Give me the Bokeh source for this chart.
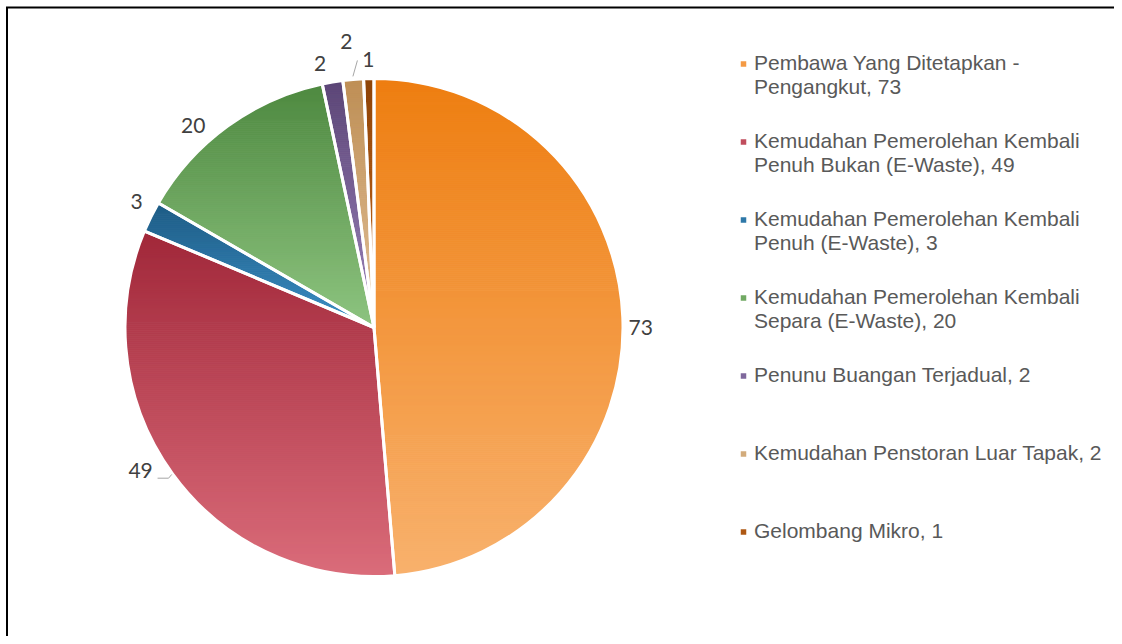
import math
import textwrap
from bokeh.plotting import figure
from bokeh.models import Range1d, ColumnDataSource
from bokeh.core.properties import value
from bokeh.embed import file_html
from bokeh.resources import INLINE

# ---------------- data ----------------
categories = [
    "Pembawa Yang Ditetapkan - Pengangkut",
    "Kemudahan Pemerolehan Kembali Penuh Bukan (E-Waste)",
    "Kemudahan Pemerolehan Kembali Penuh (E-Waste)",
    "Kemudahan Pemerolehan Kembali Separa (E-Waste)",
    "Penunu Buangan Terjadual",
    "Kemudahan Penstoran Luar Tapak",
    "Gelombang Mikro",
]
values = [73, 49, 3, 20, 2, 2, 1]

# gradient colours per slice (top -> bottom)
top_colors = ["#EE7E11", "#A1283A", "#1D5B84", "#4E8940", "#5C4677", "#BE8E55", "#8E4408"]
bottom_colors = ["#F8B16D", "#DA6C7A", "#3C8FC6", "#8EC480", "#9B83BA", "#E2C29A", "#C8691C"]

# ---------------- layout ----------------
W, H = 1114, 636
CX, CY, R = 373.5, 309.0, 249.0
label_radius = [270, 270, 270, 270, 270, 270, 270]
label_nudge = [(-3, -11), (-15, 16), (4.5, 6), (-22, -16), (-9, -2), (-5, 17), (0, -2)]
LEG_MARK_X, LEG_TEXT_X = 743.0, 753.5
LEG_TOP_MID, LEG_STEP, LEG_LINE = 572.5, 78.0, 24.0
LEG_TEXT_SHIFT = 1.5
LEGEND_FONT = "Liberation Sans"
LABEL_FONT = "Lato"


def hex2rgb(h):
    h = h.lstrip("#")
    return tuple(int(h[i:i + 2], 16) for i in (0, 2, 4))


def mix(c1, c2, t):
    a, b = hex2rgb(c1), hex2rgb(c2)
    return "#%02x%02x%02x" % tuple(int(round(a[i] + (b[i] - a[i]) * t)) for i in range(3))


def clip_half(pts, keep, yc):
    out = []
    n = len(pts)
    for i in range(n):
        cur, prev = pts[i], pts[i - 1]
        cin, pin = keep(cur), keep(prev)
        if cin:
            if not pin:
                t = (yc - prev[1]) / (cur[1] - prev[1])
                out.append((prev[0] + t * (cur[0] - prev[0]), yc))
            out.append(cur)
        elif pin:
            t = (yc - prev[1]) / (cur[1] - prev[1])
            out.append((prev[0] + t * (cur[0] - prev[0]), yc))
    return out


def clip_band(poly, lo, hi):
    pts = clip_half(poly, lambda p: p[1] >= lo, lo)
    if len(pts) < 3:
        return []
    pts = clip_half(pts, lambda p: p[1] <= hi, hi)
    return pts if len(pts) >= 3 else []


total = float(sum(values))
cum = [0.0]
for v in values:
    cum.append(cum[-1] + v)
theta0 = [c / total * 2 * math.pi for c in cum[:-1]]   # clockwise from top
theta1 = [c / total * 2 * math.pi for c in cum[1:]]

p = figure(width=W, height=H, x_range=Range1d(0, W), y_range=Range1d(0, H),
           output_backend="svg", toolbar_location=None,
           x_axis_location=None, y_axis_location=None, min_border=0,
           outline_line_color=None, background_fill_color="white")
p.grid.visible = False

# gradient slices built from horizontal bands
xs, ys, cols = [], [], []
for i in range(len(values)):
    a0, a1 = theta0[i], theta1[i]
    n = max(4, int(math.degrees(a1 - a0) * 2))
    poly = [(CX, CY)]
    for k in range(n + 1):
        a = a0 + (a1 - a0) * k / n
        poly.append((CX + R * math.sin(a), CY + R * math.cos(a)))
    ymin = min(pt[1] for pt in poly)
    ymax = max(pt[1] for pt in poly)
    band = 2.0
    nb = max(2, int(math.ceil((ymax - ymin) / band)))
    for b in range(nb):
        hi = ymax - b * (ymax - ymin) / nb
        lo = ymax - (b + 1) * (ymax - ymin) / nb
        piece = clip_band(poly, lo, hi)
        if not piece:
            continue
        t = ((ymax - (lo + hi) / 2) / (ymax - ymin))
        xs.append([pt[0] for pt in piece])
        ys.append([pt[1] for pt in piece])
        cols.append(mix(top_colors[i], bottom_colors[i], t))

src = ColumnDataSource(dict(xs=xs, ys=ys, c=cols))
p.patches("xs", "ys", fill_color="c", line_color="c", line_width=1, source=src)

# white slice borders
wsrc = ColumnDataSource(dict(
    start=[math.pi / 2 - a for a in theta0],
    end=[math.pi / 2 - a for a in theta1],
))
p.wedge(x=CX, y=CY, radius=R, start_angle="start", end_angle="end",
        direction="clock", fill_color=None, line_color="white", line_width=3,
        source=wsrc)

# data labels
lx, ly, lt = [], [], []
for i, v in enumerate(values):
    mid = (theta0[i] + theta1[i]) / 2
    x = CX + label_radius[i] * math.sin(mid) + label_nudge[i][0]
    y = CY + label_radius[i] * math.cos(mid) + label_nudge[i][1]
    lx.append(x)
    ly.append(y)
    lt.append(str(v))
p.text(x=lx, y=ly, text=lt, text_font=value(LABEL_FONT), text_font_size="21px",
       text_color="#404040", text_align="center", text_baseline="middle")

# leader lines (red slice and the first small tan slice)
mid_r = (theta0[1] + theta1[1]) / 2
p0 = (CX + (R + 1) * math.sin(mid_r), CY + (R + 1) * math.cos(mid_r))
p.line([p0[0], lx[1] + 28, lx[1] + 17], [p0[1], ly[1] - 8, ly[1] - 8],
       line_color="#A6A6A6", line_width=1)
mid_t = (theta0[5] + theta1[5]) / 2
q0 = (CX + (R + 3) * math.sin(mid_t), CY + (R + 3) * math.cos(mid_t))
p.line([q0[0], lx[5] + 11], [q0[1], ly[5] - 19], line_color="#A6A6A6", line_width=1)

# legend
mx, my, mc = [], [], []
tx, ty, tt = [], [], []
for i, (cat, v) in enumerate(zip(categories, values)):
    mid_y = LEG_TOP_MID - i * LEG_STEP
    mx.append(LEG_MARK_X)
    my.append(mid_y)
    mc.append(mix(top_colors[i], bottom_colors[i], 0.55))
    for j, line in enumerate(textwrap.wrap(f"{cat}, {v}", width=33)):
        tx.append(LEG_TEXT_X)
        ty.append(mid_y + LEG_TEXT_SHIFT - j * LEG_LINE)
        tt.append(line)
p.rect(x=mx, y=my, width=5.5, height=5.5, fill_color=mc, line_color=None)
p.text(x=tx, y=ty, text=tt, text_font=value(LEGEND_FONT), text_font_size="21px",
       text_color="#595959", text_align="left", text_baseline="middle")

# chart border (left and top)
p.line([6.5, 6.5], [0, 629], line_color="black", line_width=2)
p.line([5.5, W], [629, 629], line_color="black", line_width=2)

open("out.html", "w").write(file_html(p, INLINE))
